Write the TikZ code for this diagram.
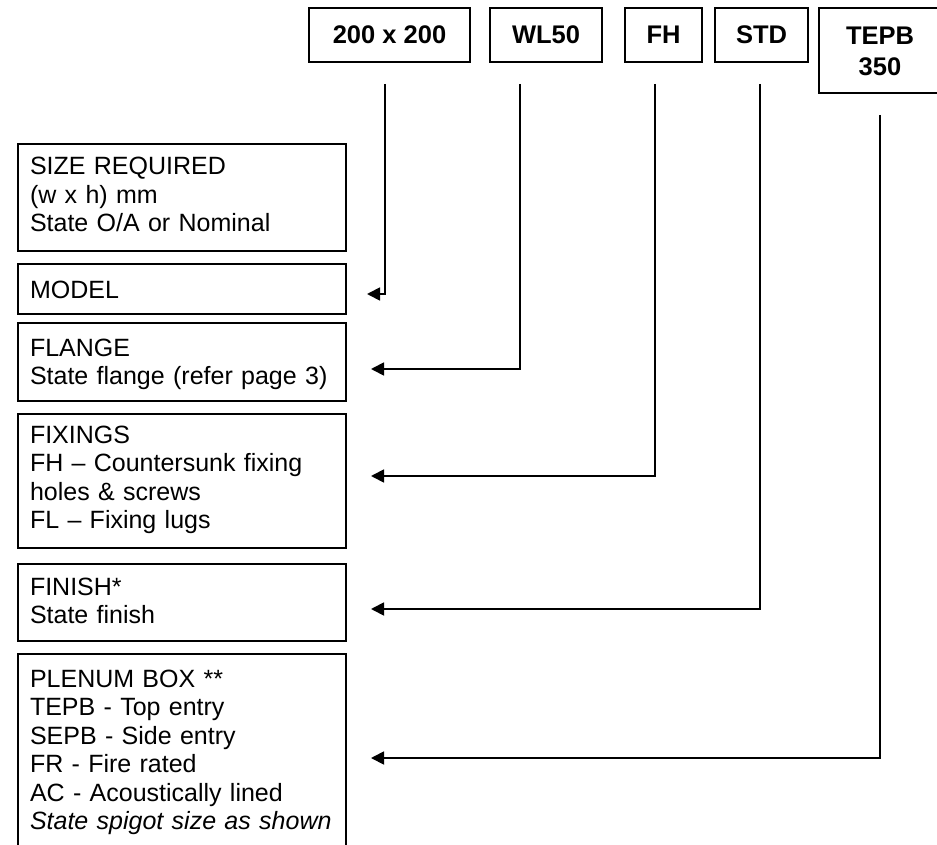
\documentclass[tikz,border=0pt]{standalone}
\usepackage{fontspec}
\setmainfont{Liberation Sans}
\usetikzlibrary{arrows.meta,calc}
\tikzset{
  every node/.style={font=\fontsize{25}{28.5}\selectfont},
  lbox/.style={draw, line width=1.8pt, inner xsep=12pt, inner ysep=0pt, outer sep=0pt,
    text width=304pt, align=left, anchor=north west},
  tbox/.style={draw, line width=1.8pt, inner sep=0pt, outer sep=0pt, anchor=north west,
    minimum height=54pt, text height=18pt, text depth=0pt, align=center,
    font=\fontsize{25.5}{31}\selectfont\bfseries},
  conn/.style={line width=1.8pt, -{Triangle[length=13pt,width=13pt]}}
}
\begin{document}
\begin{tikzpicture}[x=1pt,y=-1pt]
\useasboundingbox (0,0) rectangle (937,845);
\fill[white] (0,0) rectangle (937,845);
\clip (0,0) rectangle (937,845);
% top boxes
\node[tbox, minimum width=161pt] (b1) at (309,8) {200 x 200};
\node[tbox, minimum width=112pt] (b2) at (490,8) {WL50};
\node[tbox, minimum width=77pt] (b3) at (625,8) {FH};
\node[tbox, minimum width=93pt] (b4) at (715,8) {STD};
\node[tbox, minimum height=0pt, text width=122pt, text height=37pt, text depth=48pt] (b5) at (819,8) {TEPB\\350};
% left boxes
\node[lbox, text height=31pt, text depth=76pt] (size) at (18,144) {SIZE REQUIRED\\(w x h) mm\\State O/A or Nominal};
\node[lbox, text height=34pt, text depth=16pt] (model) at (18,264) {MODEL};
\node[lbox, text height=33pt, text depth=45pt] (flange) at (18,323) {FLANGE\\State flange (refer page 3)};
\node[lbox, text height=29pt, text depth=105pt] (fixings) at (18,414) {FIXINGS\\FH -- Countersunk fixing\\holes \& screws\\FL -- Fixing lugs};
\node[lbox, text height=31pt, text depth=46pt] (finish) at (18,564) {FINISH*\\State finish};
\node[lbox, text height=33pt, text depth=200pt] (plenum) at (18,654) {PLENUM BOX **\\TEPB - Top entry\\SEPB - Side entry\\FR - Fire rated\\AC - Acoustically lined\\\textit{State spigot size as shown}};
% connector ends
\coordinate (s1) at (385,84);
\coordinate (s2) at (520,84);
\coordinate (s3) at (655,84);
\coordinate (s4) at (760,84);
\coordinate (s5) at (880,115);
\coordinate (e1) at (367,294);
\coordinate (e2) at (371,369);
\coordinate (e3) at (371,476);
\coordinate (e4) at (371,609);
\coordinate (e5) at (371,758);
\draw[conn] (s1) |- (e1);
\draw[conn] (s2) |- (e2);
\draw[conn] (s3) |- (e3);
\draw[conn] (s4) |- (e4);
\draw[conn] (s5) |- (e5);
\end{tikzpicture}
\end{document}
